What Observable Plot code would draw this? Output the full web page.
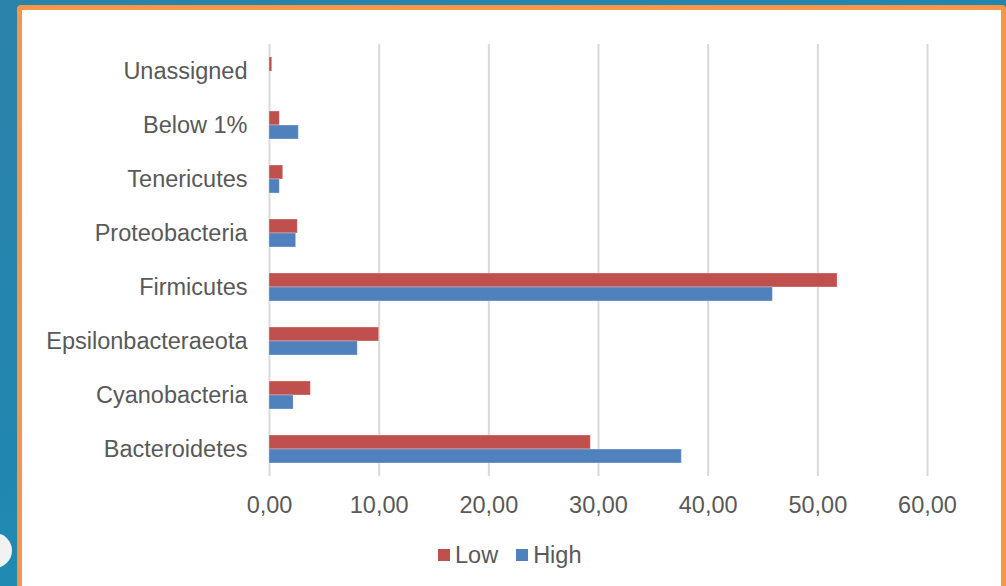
<!DOCTYPE html>
<html>
<head>
<meta charset="utf-8">
<script src="https://cdn.jsdelivr.net/npm/d3@7"></script>
<script src="https://cdn.jsdelivr.net/npm/@observablehq/plot@0.6"></script>
<style>
  html, body { margin: 0; padding: 0; }
  body {
    width: 1006px; height: 586px; overflow: hidden; position: relative;
    background: linear-gradient(160deg, #2b82aa 0%, #2187b0 50%, #1b95be 100%);
    font-family: "Liberation Sans", Arial, sans-serif;
  }
  .panel {
    position: absolute; left: 17px; top: 5px; width: 979px; height: 700px;
    background: #fff; border: 5px solid #f79646; border-radius: 4px;
  }
  .dot {
    position: absolute; left: -23px; top: 533px; width: 35px; height: 35px;
    border-radius: 50%; background: #f2f2f2;
  }
  #chart { position: absolute; left: 0; top: 0; }
  .legend {
    position: absolute; top: 543px; left: 438px; display: flex; align-items: center;
    font-size: 23.5px; color: #595959; line-height: 24px;
  }
  .legend .sw { width: 12px; height: 12px; display: inline-block; margin-right: 5px; }
  .legend .item { display: flex; align-items: center; margin-right: 18px; }
</style>
</head>
<body>
<div class="panel"></div>
<div class="dot"></div>
<div id="chart"></div>
<div class="legend">
  <span class="item"><span class="sw" style="background:#c0504d"></span>Low</span>
  <span class="item"><span class="sw" style="background:#4f81bd"></span>High</span>
</div>
<script>
// Phylum labels, top to bottom
const categories = ["Unassigned", "Below 1%", "Tenericutes", "Proteobacteria",
  "Firmicutes", "Epsilonbacteraeota", "Cyanobacteria", "Bacteroidetes"];
// Relative abundance (%) per group
const lowValues  = [0.25, 0.94, 1.25, 2.58, 51.8, 10.0, 3.77, 29.3];
const highValues = [0, 2.67, 0.94, 2.43, 45.9, 8.05, 2.2, 37.6];
const xTicks = [0, 10, 20, 30, 40, 50, 60];

const lowData = categories.map((c, i) => ({category: c, value: lowValues[i]}));
const highData = categories.map((c, i) => ({category: c, value: highValues[i]}));

const fmt = d => d.toFixed(2).replace(".", ",");

const chart = Plot.plot({
  width: 1006,
  height: 530,
  marginLeft: 269,
  marginRight: 79,
  marginTop: 44,
  marginBottom: 54,
  style: {background: "transparent", fontFamily: "'Liberation Sans', Arial, sans-serif"},
  x: {domain: [0, 60]},
  y: {domain: categories, padding: 0},
  marks: [
    Plot.gridX(xTicks, {stroke: "#d9d9d9", strokeWidth: 2, strokeOpacity: 1}),
    Plot.barX(lowData, {x: "value", y: "category", fill: "#c0504d",
      insetTop: 20, insetBottom: 20, dy: -7, stroke: "#fff", strokeOpacity: 0.3, strokeWidth: 1}),
    Plot.barX(highData, {x: "value", y: "category", fill: "#4f81bd",
      insetTop: 20, insetBottom: 20, dy: 7, stroke: "#fff", strokeOpacity: 0.3, strokeWidth: 1}),
    Plot.axisX({ticks: xTicks, tickFormat: fmt, tickSize: 0, tickPadding: 20,
      fontSize: 23.5, color: "#595959", label: null}),
    Plot.axisY({tickSize: 0, tickPadding: 22, fontSize: 23.5, color: "#595959", label: null})
  ]
});
document.getElementById("chart").appendChild(chart);
</script>
</body>
</html>
